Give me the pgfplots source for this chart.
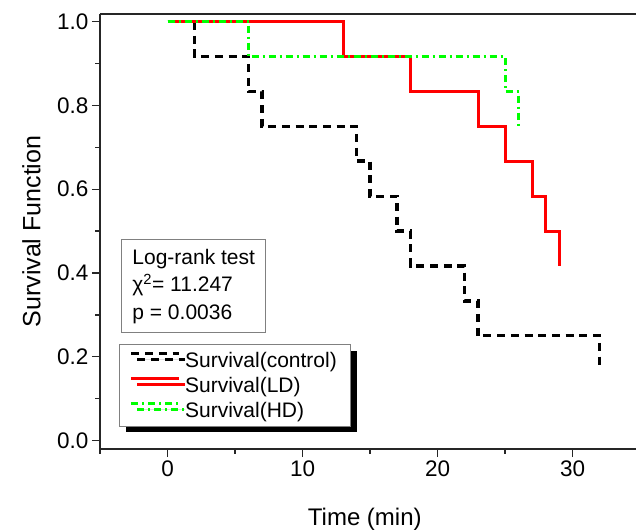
\documentclass[border=0pt]{standalone}
\usepackage{fontspec}
\setmainfont{Liberation Sans}
\usepackage{pgfplots}
\pgfplotsset{compat=1.18}
\usetikzlibrary{shadows}
\definecolor{hdgreen}{HTML}{00FF00}
\definecolor{ldred}{HTML}{FF0000}

\begin{document}
\begin{tikzpicture}[font=\fontsize{21bp}{25bp}\selectfont]
\begin{axis}[
    scale only axis, width=536bp, height=435bp,
    xmin=-5, xmax=34.7, ymin=-0.02, ymax=1.018,
    axis x line=box, axis y line=left,
    axis line style={-, line width=1.6bp, black!85},
    xtick={0,10,20,30}, minor xtick={-5,5,15,25},
    ytick={0,0.2,0.4,0.6,0.8,1}, minor ytick={0.1,0.3,0.5,0.7,0.9},
    xtick pos=left, ytick pos=left, tick align=outside,
    major tick length=8bp, minor tick length=4.5bp,
    every tick/.style={black!85, line width=1.3bp},
    ticklabel style={font=\fontsize{22.5bp}{27bp}\selectfont},
    yticklabel style={/pgf/number format/.cd, fixed, fixed zerofill, precision=1},
    /pgf/number format/assume math mode=true,
    xlabel={Time (min)}, ylabel={Survival Function},
    every axis x label/.style={at={(axis description cs:0.494,-0.161)}, anchor=center,
      font=\fontsize{24bp}{28bp}\selectfont},
    every axis y label/.style={at={(axis description cs:-0.128,0.5)}, rotate=90, anchor=center,
      font=\fontsize{25bp}{30bp}\selectfont},
    legend cell align=left,
    legend image code/.code={\draw[#1] (0bp,7bp) -- (48bp,7bp);},
    legend style={at={(axis description cs:0.036,0.241)}, anchor=north west,
      draw=gray, line width=1bp, fill=white, inner xsep=10bp, inner ysep=3bp,
      row sep=0bp, nodes={inner xsep=4bp, inner ysep=4.2bp},
      drop shadow={shadow xshift=6bp, shadow yshift=-6bp, fill=black, opacity=1}},
  ]
  % control
  \addplot[black, line width=3.3bp, dash pattern=on 8bp off 5.7bp, const plot]
    coordinates {(0,1) (2,0.917) (6,0.833) (7,0.75) (14,0.667) (15,0.583)
                 (17,0.5) (18,0.417) (22,0.333) (23,0.25) (32,0.18)};
  % low dose
  \addplot[ldred, line width=3bp, const plot]
    coordinates {(0,1) (13,0.917) (18,0.833) (23,0.75) (25,0.667) (27,0.583)
                 (28,0.5) (29,0.417)};
  % high dose
  \addplot[hdgreen, line width=3bp, dash pattern=on 7bp off 4bp on 2bp off 4bp, const plot]
    coordinates {(0,1) (6,0.917) (25,0.833) (26,0.75)};
  \legend{Survival(control),Survival(LD),Survival(HD)}

  \node[draw=gray, fill=white, line width=1bp, anchor=north west, align=left,
        inner xsep=11bp, inner ysep=9bp, font=\fontsize{21bp}{27.5bp}\selectfont]
    at (axis description cs:0.039,0.482)
    {Log-rank test\\χ\textsuperscript{2}= 11.247\\p = 0.0036};

  \coordinate (bl) at (rel axis cs:0,0);
  \coordinate (tr) at (rel axis cs:1,1);
\end{axis}
\pgfresetboundingbox
\path ([xshift=-100bp,yshift=-81bp]bl) rectangle ([yshift=14bp]tr);
\end{tikzpicture}
\end{document}
